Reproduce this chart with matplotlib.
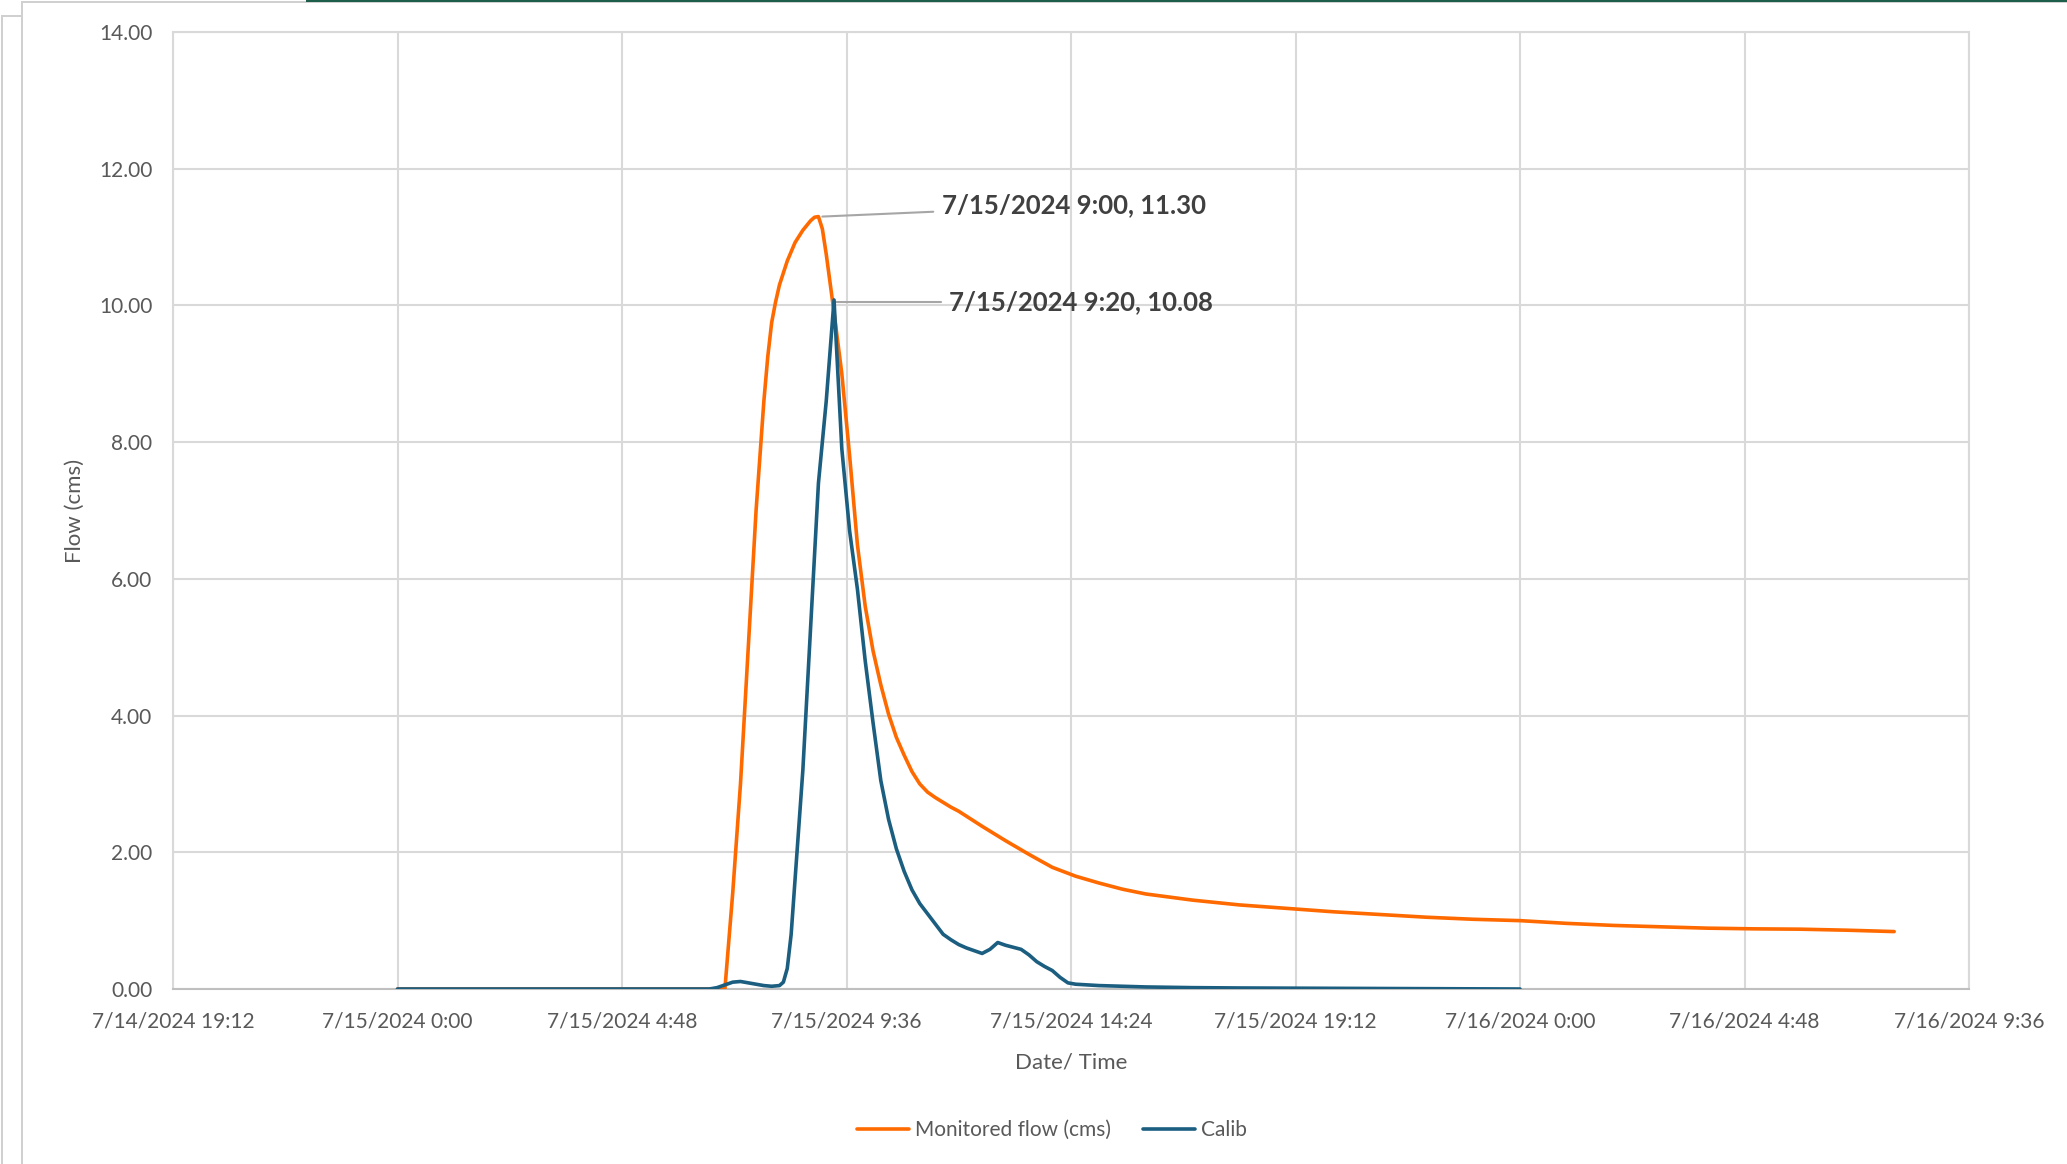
import matplotlib
import matplotlib.dates as mdates
import pandas as pd
from matplotlib import pyplot as plt
from matplotlib.lines import Line2D
from matplotlib.ticker import FuncFormatter, MultipleLocator

matplotlib.use('Agg')

# 观测流量 (Monitored flow)
obs_times = [
    "2024-07-15 00:00", "2024-07-15 06:00", "2024-07-15 07:00", "2024-07-15 07:10",
    "2024-07-15 07:20", "2024-07-15 07:30", "2024-07-15 07:40", "2024-07-15 07:50",
    "2024-07-15 07:55", "2024-07-15 08:00", "2024-07-15 08:05", "2024-07-15 08:10",
    "2024-07-15 08:20", "2024-07-15 08:30", "2024-07-15 08:40", "2024-07-15 08:50",
    "2024-07-15 08:55", "2024-07-15 09:00", "2024-07-15 09:05", "2024-07-15 09:10",
    "2024-07-15 09:20", "2024-07-15 09:30", "2024-07-15 09:40", "2024-07-15 09:50",
    "2024-07-15 10:00", "2024-07-15 10:10", "2024-07-15 10:20", "2024-07-15 10:30",
    "2024-07-15 10:40", "2024-07-15 10:50", "2024-07-15 11:00", "2024-07-15 11:10",
    "2024-07-15 11:20", "2024-07-15 11:30", "2024-07-15 11:40", "2024-07-15 11:50",
    "2024-07-15 12:00", "2024-07-15 12:30", "2024-07-15 13:00", "2024-07-15 13:30",
    "2024-07-15 14:00", "2024-07-15 14:30", "2024-07-15 15:00", "2024-07-15 15:30",
    "2024-07-15 16:00", "2024-07-15 17:00", "2024-07-15 18:00", "2024-07-15 19:00",
    "2024-07-15 20:00", "2024-07-15 21:00", "2024-07-15 22:00", "2024-07-15 23:00",
    "2024-07-16 00:00", "2024-07-16 01:00", "2024-07-16 02:00", "2024-07-16 03:00",
    "2024-07-16 04:00", "2024-07-16 05:00", "2024-07-16 06:00", "2024-07-16 07:00",
    "2024-07-16 08:00",
]
obs_flow = [
    0.00, 0.00, 0.00, 1.40,
    3.00, 5.00, 7.00, 8.60,
    9.25, 9.75, 10.05, 10.30,
    10.65, 10.92, 11.10, 11.24,
    11.29, 11.30, 11.12, 10.75,
    9.90, 9.00, 7.80, 6.50,
    5.60, 4.95, 4.45, 4.02,
    3.68, 3.42, 3.18, 3.00,
    2.88, 2.80, 2.73, 2.66,
    2.60, 2.38, 2.17, 1.97,
    1.78, 1.65, 1.55, 1.46,
    1.39, 1.30, 1.23, 1.18,
    1.13, 1.09, 1.05, 1.02,
    1.00, 0.96, 0.93, 0.91,
    0.89, 0.88, 0.875, 0.86,
    0.84,
]

# 校准模拟 (Calib)
sim_times = [
    "2024-07-15 00:00", "2024-07-15 06:40", "2024-07-15 06:50", "2024-07-15 07:00",
    "2024-07-15 07:10", "2024-07-15 07:20", "2024-07-15 07:30", "2024-07-15 07:40",
    "2024-07-15 07:50", "2024-07-15 08:00", "2024-07-15 08:10", "2024-07-15 08:15",
    "2024-07-15 08:20", "2024-07-15 08:25", "2024-07-15 08:30", "2024-07-15 08:40",
    "2024-07-15 08:50", "2024-07-15 09:00", "2024-07-15 09:10", "2024-07-15 09:20",
    "2024-07-15 09:30", "2024-07-15 09:40", "2024-07-15 09:50", "2024-07-15 10:00",
    "2024-07-15 10:10", "2024-07-15 10:20", "2024-07-15 10:30", "2024-07-15 10:40",
    "2024-07-15 10:50", "2024-07-15 11:00", "2024-07-15 11:10", "2024-07-15 11:20",
    "2024-07-15 11:30", "2024-07-15 11:40", "2024-07-15 11:50", "2024-07-15 12:00",
    "2024-07-15 12:10", "2024-07-15 12:20", "2024-07-15 12:30", "2024-07-15 12:40",
    "2024-07-15 12:50", "2024-07-15 13:00", "2024-07-15 13:10", "2024-07-15 13:20",
    "2024-07-15 13:30", "2024-07-15 13:40", "2024-07-15 13:50", "2024-07-15 14:00",
    "2024-07-15 14:10", "2024-07-15 14:20", "2024-07-15 14:30", "2024-07-15 15:00",
    "2024-07-15 16:00", "2024-07-15 17:00", "2024-07-15 18:00", "2024-07-15 20:00",
    "2024-07-15 22:00", "2024-07-16 00:00",
]
sim_flow = [
    0.00, 0.00, 0.02, 0.06,
    0.10, 0.11, 0.09, 0.07,
    0.05, 0.04, 0.05, 0.10,
    0.30, 0.80, 1.60, 3.20,
    5.30, 7.40, 8.60, 10.08,
    7.90, 6.70, 5.85, 4.80,
    3.90, 3.05, 2.48, 2.05,
    1.72, 1.45, 1.25, 1.10,
    0.95, 0.80, 0.72, 0.65,
    0.60, 0.56, 0.52, 0.58,
    0.68, 0.64, 0.61, 0.58,
    0.50, 0.40, 0.33, 0.27,
    0.17, 0.09, 0.07, 0.05,
    0.03, 0.02, 0.015, 0.01,
    0.005, 0.00,
]

series_names = ["Monitored flow (cms)", "Calib"]
series_colors = ["#FF6A00", "#1B5E80"]
peak_labels = ["7/15/2024 9:00, 11.30", "7/15/2024 9:20, 10.08"]

W, H = 2067, 1164
plt.rcParams['font.family'] = ['Lato', 'DejaVu Sans']

fig = plt.figure(figsize=(W / 100, H / 100), dpi=100)


def px(x, y):
    """像素坐标 -> figure坐标"""
    return x / W, 1 - y / H


# Excel 截图的外框
for xs, ys, c, lw in [((22, 22), (2, H), '#D0D0D0', 2), ((22, W), (2, 2), '#D0D0D0', 2),
                      ((2, 2), (16, H), '#D0D0D0', 2), ((2, 22), (16, 16), '#D0D0D0', 2),
                      ((307, W), (0.5, 0.5), '#1D5E4A', 2)]:
    p0, p1 = px(xs[0], ys[0]), px(xs[1], ys[1])
    fig.add_artist(Line2D([p0[0], p1[0]], [p0[1], p1[1]], color=c, lw=lw * 0.72,
                          transform=fig.transFigure))

left, top = px(173, 32)
right, bottom = px(1969, 989)
ax = fig.add_axes([left, bottom, right - left, top - bottom])

obs_t = pd.to_datetime(obs_times)
sim_t = pd.to_datetime(sim_times)

ax.plot(obs_t, obs_flow, color=series_colors[0], lw=2.6, label=series_names[0],
        solid_joinstyle='round', solid_capstyle='round', zorder=3)
ax.plot(sim_t, sim_flow, color=series_colors[1], lw=2.6, label=series_names[1],
        solid_joinstyle='round', solid_capstyle='round', zorder=4)

x0 = pd.Timestamp("2024-07-14 19:12")
x1 = pd.Timestamp("2024-07-16 09:36")
ax.set_xlim(mdates.date2num(x0), mdates.date2num(x1))
ax.xaxis.set_major_locator(MultipleLocator(0.2))


def fmt_date(v, pos):
    d = pd.Timestamp(mdates.num2date(v)).tz_localize(None).round('min')
    return f"{d.month}/{d.day}/{d.year} {d.hour}:{d.minute:02d}"


ax.xaxis.set_major_formatter(FuncFormatter(fmt_date))
ax.set_ylim(0, 14)
ax.yaxis.set_major_locator(MultipleLocator(2))
ax.yaxis.set_major_formatter(FuncFormatter(lambda v, p: f"{v:.2f}"))

ax.grid(True, color='#D9D9D9', lw=1.5, zorder=0)
ax.set_axisbelow(True)
for s in ax.spines.values():
    s.set_color('#D9D9D9')
    s.set_linewidth(1.5)
ax.spines['bottom'].set_color('#BFBFBF')
ax.tick_params(length=0, labelsize=15, labelcolor='#595959')
ax.tick_params(axis='x', pad=16)
ax.tick_params(axis='y', pad=15)

ax.set_xlabel("Date/ Time", fontsize=16, color='#595959', labelpad=15)
ax.set_ylabel("Flow (cms)", fontsize=16, color='#595959', labelpad=10)

# 峰值标注
ann = [
    (pd.Timestamp("2024-07-15 09:05"), 11.30, pd.Timestamp("2024-07-15 11:38"), 11.46),
    (pd.Timestamp("2024-07-15 09:21"), 10.05, pd.Timestamp("2024-07-15 11:48"), 10.05),
]
for (xa, ya, xt, yt), txt in zip(ann, peak_labels):
    ax.annotate(txt, xy=(mdates.date2num(xa), ya), xytext=(mdates.date2num(xt), yt),
                ha='left', va='center', fontsize=18.5, fontweight='bold', color='#404040',
                arrowprops=dict(arrowstyle='-', color='#A6A6A6', lw=1.5, shrinkA=4, shrinkB=0))

lx, ly = px(1052, 1130)
fig.legend(loc='center', bbox_to_anchor=(lx, ly), ncol=2, frameon=False, fontsize=15,
           labelcolor='#595959', handlelength=2.5, handletextpad=0.3, columnspacing=1.5)

fig.savefig('out.png', dpi=100)
